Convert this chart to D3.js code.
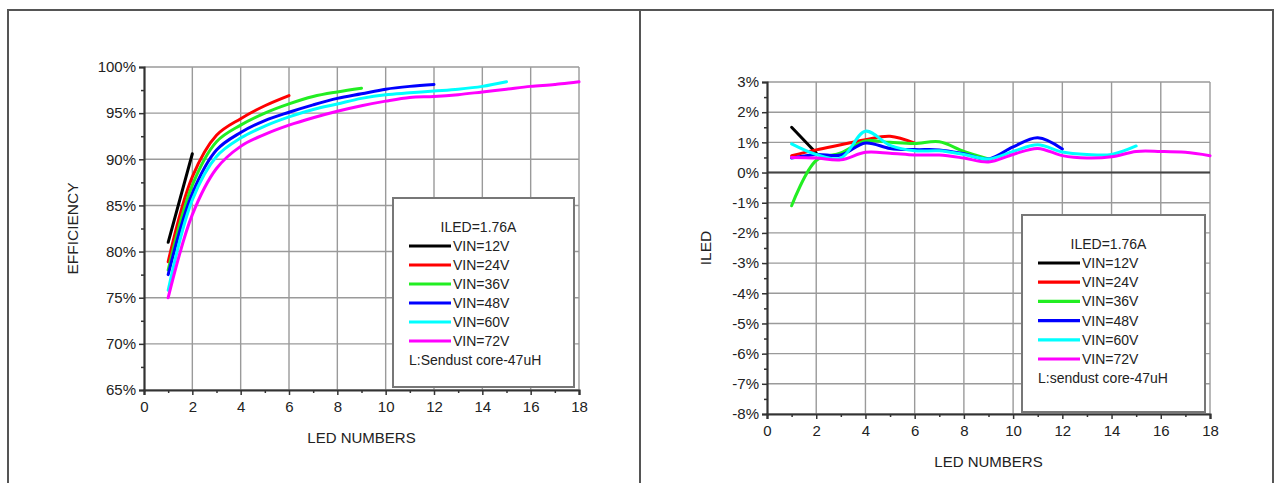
<!DOCTYPE html>
<html>
<head>
<meta charset="utf-8">
<script src="https://cdn.jsdelivr.net/npm/d3@7"></script>
<style>
  body { margin: 0; background: #fff; }
  svg { display: block; }
  text { font-family: "Liberation Sans", Arial, sans-serif; fill: #222; }
</style>
</head>
<body>
<svg id="chart" width="1277" height="483"></svg>
<script>
// series labels and colours
const seriesNames = ['VIN=12V', 'VIN=24V', 'VIN=36V', 'VIN=48V', 'VIN=60V', 'VIN=72V']
const seriesColors = ['#000000', '#ff0000', '#22ee22', '#0000ff', '#00ffff', '#ff00ff']

// efficiency (%), value i is for LED count i+1
const eff12 = [81.0, 90.6]
const eff24 = [78.9, 88.1, 92.6, 94.4, 95.8, 96.9]
const eff36 = [78.0, 87.2, 91.9, 93.7, 95.0, 96.0, 96.8, 97.3, 97.7]
const eff48 = [77.5, 86.3, 91.0, 92.9, 94.2, 95.1, 95.9, 96.6, 97.1, 97.6, 97.9, 98.1]
const eff60 = [75.8, 85.6, 90.3, 92.3, 93.6, 94.6, 95.4, 96.0, 96.6, 97.0, 97.2, 97.4, 97.6, 97.9, 98.4]
const eff72 = [75.0, 84.0, 89.0, 91.4, 92.7, 93.7, 94.5, 95.2, 95.8, 96.3, 96.7, 96.8, 97.0, 97.3, 97.6, 97.9, 98.1, 98.4]

// ILED regulation (%), value i is for LED count i+1
const iled12 = [1.5, 0.65]
const iled24 = [0.56, 0.75, 0.92, 1.09, 1.2, 0.97]
const iled36 = [-1.1, 0.4, 0.65, 1.05, 1.0, 0.96, 1.02, 0.7, 0.45]
const iled48 = [0.48, 0.6, 0.58, 0.98, 0.8, 0.76, 0.75, 0.62, 0.45, 0.85, 1.15, 0.78]
const iled60 = [0.95, 0.6, 0.48, 1.37, 0.9, 0.72, 0.72, 0.6, 0.45, 0.7, 0.92, 0.68, 0.6, 0.6, 0.88]
const iled72 = [0.5, 0.48, 0.42, 0.67, 0.64, 0.58, 0.58, 0.48, 0.35, 0.6, 0.8, 0.56, 0.48, 0.52, 0.7, 0.7, 0.67, 0.56]

// ticks
const ledTicks = [0, 2, 4, 6, 8, 10, 12, 14, 16, 18]
const ledMinor = [1, 3, 5, 7, 9, 11, 13, 15, 17]
const effTicks = [65, 70, 75, 80, 85, 90, 95, 100]
const effMinor = [67.5, 72.5, 77.5, 82.5, 87.5, 92.5, 97.5]
const iledTicks = [-8, -7, -6, -5, -4, -3, -2, -1, 0, 1, 2, 3]
const iledMinor = [-7.5, -6.5, -5.5, -4.5, -3.5, -2.5, -1.5, -0.5, 0.5, 1.5, 2.5]

const svg = d3.select('#chart')

// outer frame and divider
const frame = svg.append('g')
  .attr('fill', 'none')
  .attr('stroke', '#555')
  .attr('stroke-width', 2)
frame.append('path').attr('d', 'M8,483 V10 H1273 V483')
frame.append('path').attr('d', 'M640,10 V483')

function drawChart(cfg) {
  const g = svg.append('g')
  const x = d3.scaleLinear().domain([0, 18]).range([cfg.left, cfg.right])
  const y = d3.scaleLinear().domain(cfg.yDomain).range([cfg.bottom, cfg.top])

  // grid
  const grid = g.append('g').attr('stroke', '#9a9a9a').attr('stroke-width', 1.4)
  grid.selectAll('.hg').data(cfg.yTicks).enter().append('line')
    .attr('x1', cfg.left).attr('x2', cfg.right)
    .attr('y1', d => y(d)).attr('y2', d => y(d))
  grid.selectAll('.vg').data(ledTicks.filter(d => d > 0)).enter().append('line')
    .attr('y1', cfg.top).attr('y2', cfg.bottom)
    .attr('x1', d => x(d)).attr('x2', d => x(d))

  // zero line
  if (cfg.zeroLine) {
    g.append('line')
      .attr('x1', cfg.left).attr('x2', cfg.right)
      .attr('y1', y(0)).attr('y2', y(0))
      .attr('stroke', '#444').attr('stroke-width', 2)
  }

  // axes
  const yAxis = g.append('g').attr('transform', `translate(${cfg.left},0)`)
    .call(d3.axisLeft(y).tickValues(cfg.yTicks).tickSize(5).tickPadding(3).tickFormat(d => d + '%'))
  const yMinor = g.append('g').attr('transform', `translate(${cfg.left},0)`)
    .call(d3.axisLeft(y).tickValues(cfg.yMinor).tickSize(3).tickFormat(''))
  const xAxis = g.append('g').attr('transform', `translate(0,${cfg.bottom})`)
    .call(d3.axisBottom(x).tickValues(ledTicks).tickSize(5).tickPadding(6))
  const xMinor = g.append('g').attr('transform', `translate(0,${cfg.bottom})`)
    .call(d3.axisBottom(x).tickValues(ledMinor).tickSize(3).tickFormat(''))

  ;[yAxis, yMinor, xAxis, xMinor].forEach(a => {
    a.select('.domain').attr('stroke', '#333').attr('stroke-width', 2.2)
    a.selectAll('.tick line').attr('stroke', '#333').attr('stroke-width', 1.5)
    a.selectAll('text').style('font-size', '15px').attr('fill', '#333')
      .style('font-family', '"Liberation Sans", Arial, sans-serif')
  })
  yMinor.select('.domain').remove()
  xMinor.select('.domain').remove()

  // axis titles
  g.append('text')
    .attr('transform', `translate(${cfg.yTitleX},${(cfg.top + cfg.bottom) / 2}) rotate(-90)`)
    .attr('text-anchor', 'middle')
    .attr('dominant-baseline', 'central')
    .style('font-size', '15.5px')
    .text(cfg.yTitle)
  g.append('text')
    .attr('x', (cfg.left + cfg.right) / 2)
    .attr('y', cfg.xTitleY)
    .attr('text-anchor', 'middle')
    .attr('dominant-baseline', 'central')
    .style('font-size', '15px')
    .text('LED NUMBERS')

  // legend
  const lg = g.append('g').attr('transform', `translate(${cfg.legend.x},${cfg.legend.y})`)
  lg.append('rect')
    .attr('width', cfg.legend.w).attr('height', cfg.legend.h)
    .attr('fill', '#fff').attr('stroke', '#777').attr('stroke-width', 2)
  lg.append('text')
    .attr('x', cfg.legend.w / 2 - 5).attr('y', 29)
    .attr('text-anchor', 'middle').attr('dominant-baseline', 'central')
    .style('font-size', '14px')
    .text('ILED=1.76A')
  const rows = lg.selectAll('.row').data(seriesNames).enter().append('g')
    .attr('transform', (d, i) => `translate(0,${48 + i * cfg.legend.step})`)
  rows.append('line')
    .attr('x1', 16).attr('x2', 58)
    .attr('stroke', (d, i) => seriesColors[i])
    .attr('stroke-width', 3.2)
  rows.append('text')
    .attr('x', 60).attr('dominant-baseline', 'central')
    .style('font-size', '14px')
    .text(d => d)
  lg.append('text')
    .attr('x', 16).attr('y', 48 + 6 * cfg.legend.step)
    .attr('dominant-baseline', 'central')
    .style('font-size', '14px')
    .text(cfg.legend.note)

  // series lines
  const line = d3.line()
    .x((d, i) => x(i + 1))
    .y(d => y(d))
    .curve(d3.curveCatmullRom.alpha(0.5))
  g.append('g').selectAll('path').data(cfg.series).enter().append('path')
    .attr('d', d => line(d))
    .attr('fill', 'none')
    .attr('stroke', (d, i) => seriesColors[i])
    .attr('stroke-width', 3)
    .attr('stroke-linecap', 'round')
    .attr('stroke-linejoin', 'round')
}

drawChart({
  left: 144, right: 579, top: 67, bottom: 390,
  yDomain: [65, 100], yTicks: effTicks, yMinor: effMinor,
  yTitle: 'EFFICIENCY', yTitleX: 72, xTitleY: 437,
  legend: { x: 393, y: 198, w: 181, h: 189, step: 19, note: 'L:Sendust core-47uH' },
  series: [eff12, eff24, eff36, eff48, eff60, eff72]
})

drawChart({
  left: 767, right: 1210, top: 82, bottom: 414,
  yDomain: [-8, 3], yTicks: iledTicks, yMinor: iledMinor, zeroLine: true,
  yTitle: 'ILED', yTitleX: 705, xTitleY: 461,
  legend: { x: 1022, y: 215, w: 183, h: 197, step: 19.2, note: 'L:sendust core-47uH' },
  series: [iled12, iled24, iled36, iled48, iled60, iled72]
})
</script>
</body>
</html>
